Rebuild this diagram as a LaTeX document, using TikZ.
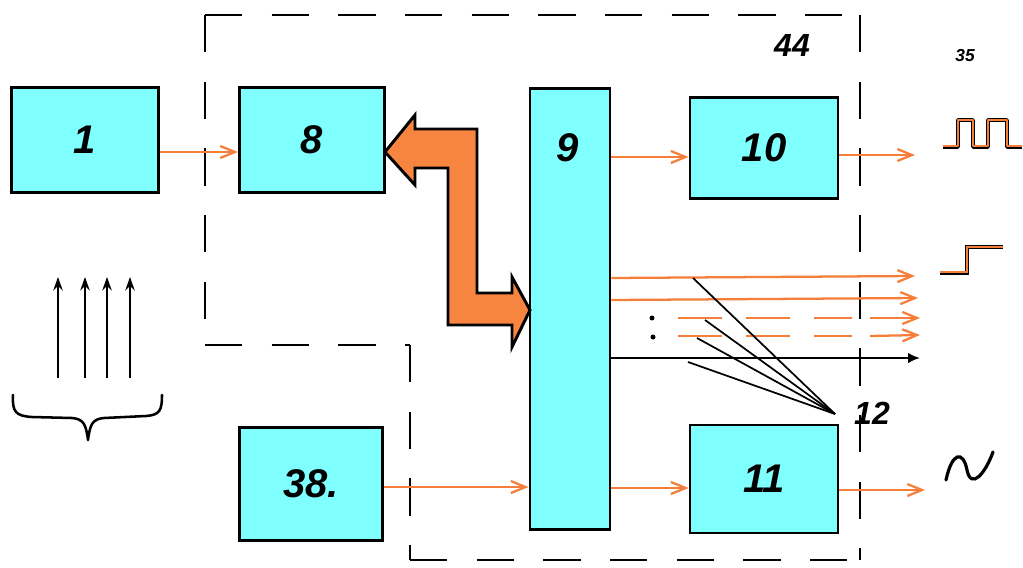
\documentclass[tikz,border=0pt]{standalone}
\usepackage{fontspec}
\setmainfont{Liberation Sans}
\usetikzlibrary{arrows.meta}
\definecolor{boxcyan}{HTML}{80FFFF}
\definecolor{org}{HTML}{F57E3A}
\definecolor{bigorg}{HTML}{F7853F}
\begin{document}
\begin{tikzpicture}[x=0.75pt,y=-0.75pt,
  blk/.style={draw=black,line width=2.2pt,fill=boxcyan,inner sep=0pt,font=\fontsize{30}{30}\selectfont\itshape\bfseries},
  oarr/.style={draw=org,line width=1.7pt,-{Straight Barb[length=11pt,width=9pt,line width=1.7pt]}},
  bnd/.style={line width=1.6pt,dash pattern=on 28pt off 22pt},
  lead/.style={line width=1.3pt},
  lbl/.style={font=\fontsize{24}{24}\selectfont\itshape\bfseries}]
\useasboundingbox (0,0) rectangle (1023,567);
% dashed boundary
\draw[bnd] (205,15) -- (860,15);
\draw[bnd] (860,15) -- (860,560);
\draw[bnd] (205,15) -- (205,345);
\draw[bnd] (205,345) -- (410,345);
\draw[bnd] (410,345) -- (410,560);
\draw[bnd] (410,560) -- (860,560);
% blocks
\node[blk,minimum width=110pt,minimum height=79pt] (b1) at (85,140) {1};
\node[blk,minimum width=109pt,minimum height=79pt] (b8) at (312,140) {8};
\node[blk,minimum width=60pt,minimum height=331pt] (b9) at (570,309) {};
\node at (568,148) [font=\fontsize{30}{30}\selectfont\itshape\bfseries] (l9) {9};
\node[blk,minimum width=111pt,minimum height=76pt] (b10) at (764,148) {10};
\node[blk,minimum width=111pt,minimum height=81pt] (b11) at (764,479) {11};
\node[blk,minimum width=107pt,minimum height=85pt] (b38) at (311,484) {38.};
% big double arrow
\draw[line width=2.2pt,fill=bigorg,line join=miter]
  (385,152) -- (415,115) -- (415,129) -- (477,129) -- (477,293) -- (512,293) -- (512,277)
  -- (530,310) -- (512,347) -- (512,325) -- (448,325) -- (448,168) -- (415,168) -- (415,185) -- cycle;
% orange connectors
\draw[oarr] (b1.east |- 0,152) -- (b8.west |- 0,152);
\draw[oarr] (b9.east |- 0,157) -- (b10.west |- 0,157);
\coordinate (o10) at (915,155);
\draw[oarr] (b10.east |- 0,155) -- (o10);
\draw[oarr] (b38.east |- 0,487) -- (b9.west |- 0,487);
\draw[oarr] (b9.east |- 0,488) -- (b11.west |- 0,488);
\coordinate (o11) at (925,490);
\draw[oarr] (b11.east |- 0,490) -- (o11);
% outputs of 9
\coordinate (oa) at (915,276);
\coordinate (ob) at (918,298);
\coordinate (oc) at (920,318);
\coordinate (od) at (920,335);
\coordinate (oe) at (920,358);
\draw[oarr] (b9.east |- 0,278) -- (oa);
\draw[oarr] (b9.east |- 0,300) -- (ob);
\draw[draw=org,line width=1.7pt,dash pattern=on 33pt off 18pt] (678,318) -- (852,318);
\draw[draw=org,line width=1.7pt,dash pattern=on 33pt off 18pt] (678,336) -- (852,336);
\draw[oarr] (870,318) -- (oc);
\draw[oarr] (870,336) -- (od);
\draw[line width=1.7pt,-{Latex[length=9pt,width=8pt]}] (b9.east |- 0,358) -- (oe);
\fill (652,318) circle (2.5);
\fill (653,337) circle (2.5);
% leader lines to 12
\coordinate (p12) at (835,414);
\draw[lead] (p12) -- (693,278);
\draw[lead] (p12) -- (705,320);
\draw[lead] (p12) -- (697,338);
\draw[lead] (p12) -- (688,362);
\node[lbl] (t12) at (872,413) {12};
\node[lbl] (t44) at (792,45) {44};
\node[font=\fontsize{13}{13}\selectfont\itshape\bfseries] (t35) at (965,56) {35};
% signals
\draw[line width=2.6pt,line join=round] (943,147) -- (958,147) -- (958,120) -- (973,120) -- (973,147) -- (988,147) -- (988,120) -- (1007,120) -- (1007,147) -- (1022,147);
\draw[org,line width=1.6pt,line join=round] (943,146) -- (958,146) -- (958,120) -- (973,120) -- (973,146) -- (988,146) -- (988,120) -- (1007,120) -- (1007,146) -- (1022,146);
\draw[line width=2.6pt] (940,273) -- (967,273) -- (967,247) -- (1003,247);
\draw[org,line width=1.6pt] (940,272) -- (967,272) -- (967,247) -- (1003,247);
\draw[line width=2.4pt,line cap=round] (946,480) .. controls (952,452) and (963,450) .. (967,470) .. controls (971,490) and (985,474) .. (993,452);
% up arrows and brace
\foreach \x/\n in {58/a,85/b,107/c,130/d}{
  \coordinate (s\n) at (\x,378);
  \coordinate (e\n) at (\x,277);
  \draw[line width=1.9pt,-{Stealth[length=10pt,width=7pt]}] (s\n) -- (e\n);
}
\draw[line width=1.9pt,line cap=round,line join=round]
  (13,395) .. controls (12,412) and (16,416) .. (32,417) -- (72,418)
  .. controls (84,419) and (86,425) .. (88,440)
  .. controls (90,425) and (92,419) .. (104,418) -- (146,416)
  .. controls (160,415) and (162,410) .. (162,395);
\end{tikzpicture}
\end{document}
